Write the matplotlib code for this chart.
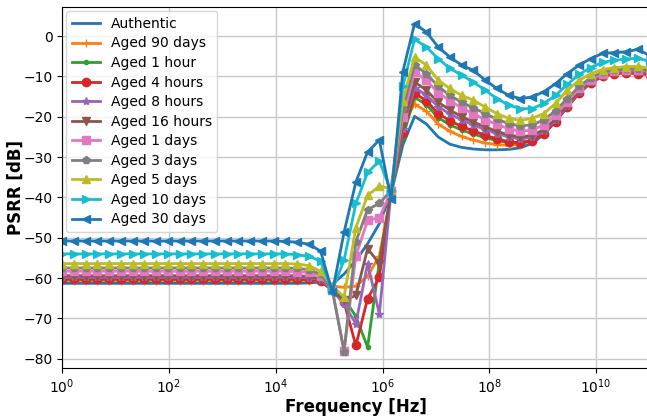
import numpy as np
import matplotlib
matplotlib.use("Agg")
import matplotlib.pyplot as plt

# sweep: 51 log-spaced points from 1 Hz to 100 GHz
freq = np.logspace(0, 11, 51)

# PSRR curves in dB; first 19 points are the flat low-frequency level
authentic = [-61.3] * 19 + [-61.3, -61.3, -61.2, -61.0, -61.5, -59.0, -55.6, -51.5, -46.5, -39.0,
                            -27.0, -19.9, -21.8, -25.0, -26.8, -27.6, -28.0, -28.2, -28.2, -28.1,
                            -27.7, -26.6, -24.4, -21.0, -17.3, -13.8, -11.1, -9.5, -8.8, -8.7,
                            -8.8, -9.2]
aged_90d = [-60.6] * 19 + [-60.6, -60.6, -60.6, -60.8, -62.0, -62.3, -62.0, -59.5, -54.5, -39.0,
                           -21.5, -16.9, -18.6, -21.8, -23.6, -24.9, -25.8, -26.5, -26.9, -27.1,
                           -26.9, -26.0, -24.0, -20.8, -17.2, -13.8, -11.2, -9.6, -8.9, -8.8,
                           -8.9, -9.3]
aged_1h = [-60.3] * 19 + [-60.3, -60.3, -60.4, -60.8, -63.0, -65.0, -69.5, -77.1, -56.0, -39.0,
                          -25.0, -15.2, -17.0, -20.2, -22.0, -23.3, -24.3, -25.2, -25.9, -26.4,
                          -26.5, -25.8, -24.0, -21.0, -17.4, -14.0, -11.4, -9.8, -9.1, -9.0,
                          -9.1, -9.4]
aged_4h = [-60.2] * 19 + [-60.2, -60.2, -60.3, -60.7, -63.0, -66.0, -76.7, -65.1, -59.8, -38.5,
                          -24.0, -14.2, -16.0, -19.2, -21.0, -22.4, -23.5, -24.6, -25.5, -26.2,
                          -26.5, -25.9, -24.2, -21.2, -17.6, -14.2, -11.6, -10.0, -9.3, -9.2,
                          -9.3, -9.6]
aged_8h = [-59.8] * 19 + [-59.8, -59.8, -59.9, -60.4, -63.0, -66.5, -71.3, -56.4, -68.9, -38.5,
                          -23.0, -12.8, -14.6, -17.5, -19.3, -20.8, -22.0, -23.2, -24.2, -25.0,
                          -25.5, -25.1, -23.6, -20.8, -17.3, -13.9, -11.3, -9.7, -9.0, -8.8,
                          -8.8, -9.2]
aged_16h = [-59.4] * 19 + [-59.4, -59.4, -59.6, -60.2, -63.0, -65.5, -64.3, -52.7, -56.4, -38.5,
                           -22.0, -11.4, -13.4, -16.4, -18.3, -20.0, -21.3, -22.5, -23.6, -24.5,
                           -25.0, -24.6, -23.2, -20.5, -17.0, -13.7, -11.2, -9.6, -8.9, -8.7,
                           -8.7, -9.1]
aged_1d = [-58.3] * 19 + [-58.3, -58.4, -58.6, -59.5, -63.0, -78.0, -54.5, -45.7, -45.0, -38.5,
                          -20.0, -8.9, -11.0, -14.0, -16.0, -17.8, -19.3, -20.7, -21.9, -23.0,
                          -23.6, -23.3, -22.0, -19.5, -16.3, -13.0, -10.8, -9.3, -8.6, -8.4,
                          -8.4, -8.8]
aged_3d = [-57.5] * 19 + [-57.5, -57.6, -57.9, -59.0, -63.0, -78.2, -51.0, -43.0, -41.5, -38.3,
                          -18.0, -7.2, -9.3, -12.5, -14.7, -16.4, -17.8, -19.2, -20.6, -21.7,
                          -22.3, -22.0, -20.8, -18.5, -15.5, -12.5, -10.3, -9.0, -8.4, -8.2,
                          -8.2, -8.6]
aged_5d = [-56.4] * 19 + [-56.4, -56.5, -56.9, -58.3, -62.0, -64.7, -47.5, -39.5, -37.2, -37.8,
                          -16.0, -5.2, -7.2, -10.9, -13.0, -14.7, -15.9, -17.6, -19.2, -20.4,
                          -20.9, -20.4, -19.2, -16.7, -13.4, -11.0, -9.3, -8.3, -7.8, -7.6,
                          -7.5, -8.0]
aged_10d = [-54.0] * 19 + [-54.0, -54.2, -54.6, -55.8, -63.0, -55.5, -41.5, -33.8, -31.0, -38.5,
                           -12.5, -0.8, -2.7, -5.6, -8.0, -9.7, -11.4, -13.4, -15.5, -17.1,
                           -18.0, -18.0, -16.7, -14.7, -12.0, -9.5, -7.8, -6.5, -6.0, -5.7,
                           -5.5, -6.3]
aged_30d = [-50.8] * 19 + [-50.9, -51.1, -51.6, -53.3, -63.5, -48.6, -36.2, -28.7, -25.8, -40.5,
                           -8.8, 3.1, 1.0, -2.7, -5.2, -7.2, -8.5, -10.9, -13.0, -14.7,
                           -15.5, -15.1, -13.8, -11.8, -9.3, -7.2, -5.6, -4.3, -4.1, -3.9,
                           -3.3, -4.8]

labels = ["Authentic", "Aged 90 days", "Aged 1 hour", "Aged 4 hours", "Aged 8 hours",
          "Aged 16 hours", "Aged 1 days", "Aged 3 days", "Aged 5 days", "Aged 10 days",
          "Aged 30 days"]
series = [authentic, aged_90d, aged_1h, aged_4h, aged_8h, aged_16h,
          aged_1d, aged_3d, aged_5d, aged_10d, aged_30d]
markers = [None, "+", ".", "o", "*", "v", "s", "p", "^", ">", "<"]

fig = plt.figure(figsize=(6.47, 4.2), dpi=100)
ax = fig.add_axes([0.096, 0.124, 0.908, 0.859])

for y, lab, m in zip(series, labels, markers):
    ax.plot(freq, y, marker=m, linewidth=2, markersize=6, label=lab)

ax.set_xscale("log")
ax.set_xlim(1, 1e11)
ax.set_xticks([1e0, 1e2, 1e4, 1e6, 1e8, 1e10])
ax.grid(True, color="#c8c8c8", linewidth=1)
ax.set_xlabel("Frequency [Hz]", fontsize=12, fontweight="bold", labelpad=1)
ax.set_ylabel("PSRR [dB]", fontsize=12, fontweight="bold", labelpad=-1)
ax.tick_params(labelsize=10)
ax.legend(loc="upper left", fontsize=10, labelspacing=0.4, borderaxespad=0.3)

fig.savefig("out.png", dpi=100)
